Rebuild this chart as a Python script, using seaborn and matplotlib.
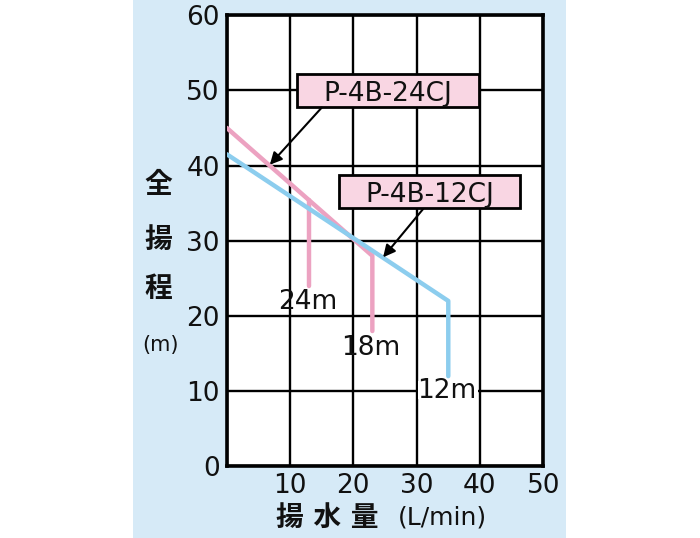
import numpy as np
import pandas as pd
import seaborn as sns
import matplotlib.pyplot as plt
from matplotlib.patches import Rectangle

# pump curves (flow L/min, head m)
p24_main_x = [0, 23, 23]
p24_main_y = [45, 28, 18]
p24_drop_x = [13, 13]
p24_drop_y = [35.4, 24]
p12_x = [0, 35, 35]
p12_y = [41.5, 22, 12]

x_ticks = [0, 10, 20, 30, 40, 50]
x_tick_labels = ['', '10', '20', '30', '40', '50']
y_ticks = [0, 10, 20, 30, 40, 50, 60]

pipe_labels = ['24m', '18m', '12m']
pipe_pos = [(12.8, 20.9), (22.8, 14.8), (34.8, 9.1)]   # baseline positions
model_labels = ['P-4B-24CJ', 'P-4B-12CJ']
model_pos = [(25.5, 48.6), (32.1, 35.2)]              # baseline positions
# label boxes (x0, x1, y0, y1) in data units
model_box = [(11.1, 39.9, 47.8, 52.2), (17.7, 46.4, 34.3, 38.8)]
arrow_from = [(15.0, 47.7), (31.0, 34.2)]
arrow_to = [(6.8, 40.1), (24.7, 27.8)]

pink = '#eca2c1'
blue = '#8ccdee'

sns.set_theme(style='white')
plt.rcParams['font.family'] = ['DejaVu Sans', 'Noto Sans CJK JP']
latin = 'DejaVu Sans'

fig = plt.figure(figsize=(7, 5.38), dpi=100)
fig.patches.append(Rectangle((0.19, 0), 0.619, 1, transform=fig.transFigure,
                             facecolor='#d6eaf7', edgecolor='none', zorder=-1))
ax = fig.add_axes([0.324, 0.133, 0.452, 0.839])
ax.set_zorder(1)
ax.set_facecolor('white')

df_main = pd.DataFrame({'x': p24_main_x, 'y': p24_main_y})
df_drop = pd.DataFrame({'x': p24_drop_x, 'y': p24_drop_y})
df_blue = pd.DataFrame({'x': p12_x, 'y': p12_y})
sns.lineplot(data=df_main, x='x', y='y', sort=False, estimator=None, color=pink, lw=3.2, ax=ax, zorder=3)
sns.lineplot(data=df_drop, x='x', y='y', sort=False, estimator=None, color=pink, lw=3.2, ax=ax, zorder=3)
sns.lineplot(data=df_blue, x='x', y='y', sort=False, estimator=None, color=blue, lw=3.2, ax=ax, zorder=4)

ax.set_xlim(0, 50)
ax.set_ylim(0, 60)
ax.set_xticks(x_ticks)
ax.set_xticklabels(x_tick_labels, family=latin)
ax.set_yticks(y_ticks)
ax.set_yticklabels([str(v) for v in y_ticks], family=latin)
ax.grid(True, color='black', lw=1.7)
ax.set_axisbelow(True)
for s in ax.spines.values():
    s.set_color('black')
    s.set_linewidth(2.6)
ax.tick_params(length=0, labelsize=19, colors='#111111', pad=5)
ax.set_xlabel('')
ax.set_ylabel('')

# white gap in the 10 m gridline behind the "12m" label
ax.add_patch(Rectangle((30.2, 8.9), 9.5, 2.4, facecolor='white', edgecolor='none', zorder=2))
for lab, (x, y) in zip(pipe_labels, pipe_pos):
    ax.text(x, y, lab, ha='center', va='baseline', fontsize=19, color='#111111',
            family=latin, zorder=5)

for lab, (x, y), (bx0, bx1, by0, by1), a0, a1 in zip(model_labels, model_pos, model_box,
                                                      arrow_from, arrow_to):
    ax.add_patch(Rectangle((bx0, by0), bx1 - bx0, by1 - by0, facecolor='#f9d6e3',
                           edgecolor='black', lw=2, zorder=6))
    ax.text(x, y, lab, ha='center', va='baseline', fontsize=19, color='#111111',
            family=latin, zorder=7)
    ax.annotate('', xy=a1, xytext=a0, zorder=6,
                arrowprops=dict(arrowstyle='-|>', color='black', lw=1.5, mutation_scale=18,
                                shrinkA=0, shrinkB=0))

# stacked vertical y label
for ch, yy in zip(['全', '揚', '程'], [185, 240, 289]):
    fig.text(158 / 700, 1 - yy / 538, ch, ha='center', va='center', fontsize=20,
             fontweight='bold', color='#111111')
fig.text(160 / 700, 1 - 345 / 538, '(m)', ha='center', va='center', fontsize=15,
         family=latin, color='#111111')

fig.text(327 / 700, 1 - 518 / 538, '揚 水 量', ha='center', va='center', fontsize=20,
         fontweight='bold', color='#111111')
fig.text(442 / 700, 1 - 518 / 538, '(L/min)', ha='center', va='center', fontsize=18,
         family=latin, color='#111111')

fig.savefig('out.png', dpi=100)
